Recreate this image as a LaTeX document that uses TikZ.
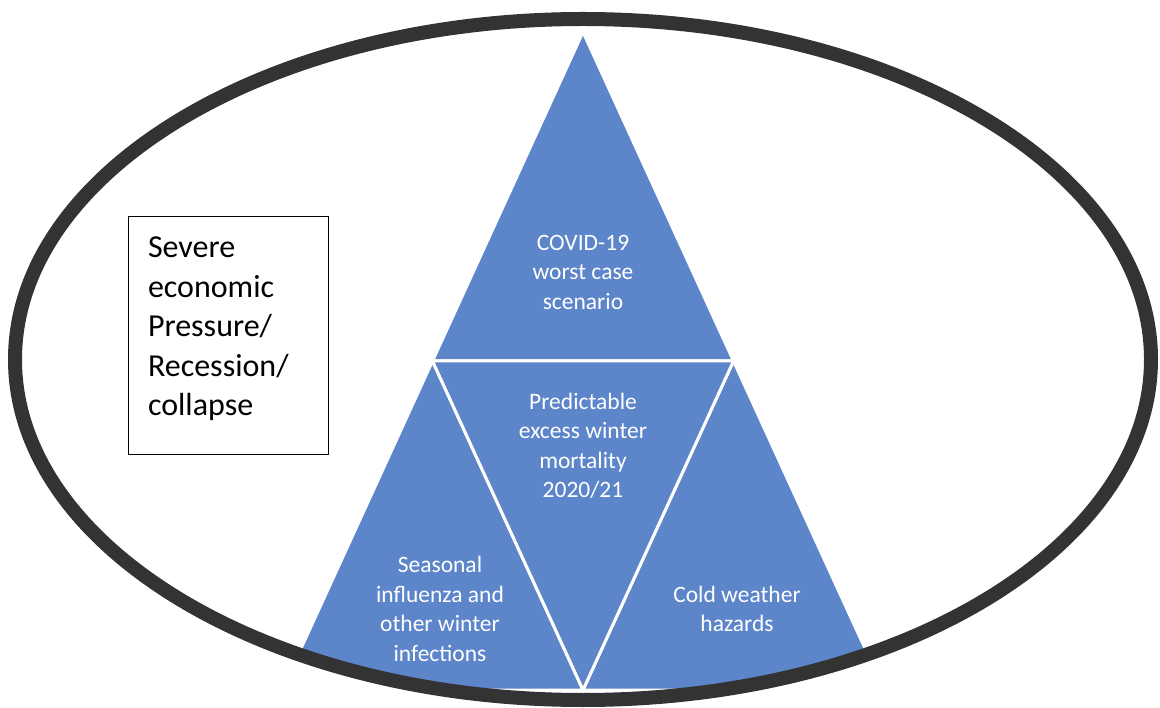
\documentclass[tikz,border=0pt]{standalone}
\usepackage{fontspec}
\setmainfont{Carlito}
\definecolor{pyrblue}{RGB}{92,133,202}
\definecolor{rimgray}{RGB}{51,51,51}

\begin{document}
\begin{tikzpicture}[x=1pt,y=-1pt,
   tri/.style={fill=pyrblue,draw=white,line width=3pt,line join=miter},
   trilabel/.style={text=white,align=center,font=\fontsize{23.5}{29.5}\selectfont},
   econbox/.style={draw=black,line width=1pt,align=left,text width=160pt,
     minimum width=200pt,minimum height=238pt,inner xsep=20pt,text depth=177pt,
     font=\fontsize{32}{39.5}\selectfont}]
   \useasboundingbox (0,0) rectangle (1160,708);
   \coordinate (apex) at (583,32);
   \coordinate (bl) at (282,690);
   \coordinate (br) at (884,690);
   \coordinate (ml) at (432.5,361);
   \coordinate (mr) at (733.5,361);
   \coordinate (mb) at (583,690);
   \begin{scope}
    \clip (583,359.5) ellipse [x radius=568,y radius=340.5];
    \filldraw[tri] (apex) -- (ml) -- (mr) -- cycle;
    \filldraw[tri] (ml) -- (bl) -- (mb) -- cycle;
    \filldraw[tri] (mr) -- (mb) -- (br) -- cycle;
    \filldraw[tri] (ml) -- (mr) -- (mb) -- cycle;
   \end{scope}
   \draw[rimgray,line width=14pt] (583,359.5) ellipse [x radius=568,y radius=340.5];
   \node[trilabel] (covid) at (583,272) {COVID-19\\worst case\\scenario};
   \node[trilabel] (excess) at (583,446) {Predictable\\excess winter\\mortality\\2020/21};
   \node[trilabel] (flu) at (440,609) {Seasonal\\influenza and\\other winter\\infections};
   \node[trilabel] (cold) at (737,609) {Cold weather\\hazards};
   \node[econbox] (econ) at (228,336) {Severe\\economic\\Pressure/\\Recession/\\collapse};
  \end{tikzpicture}
\end{document}
